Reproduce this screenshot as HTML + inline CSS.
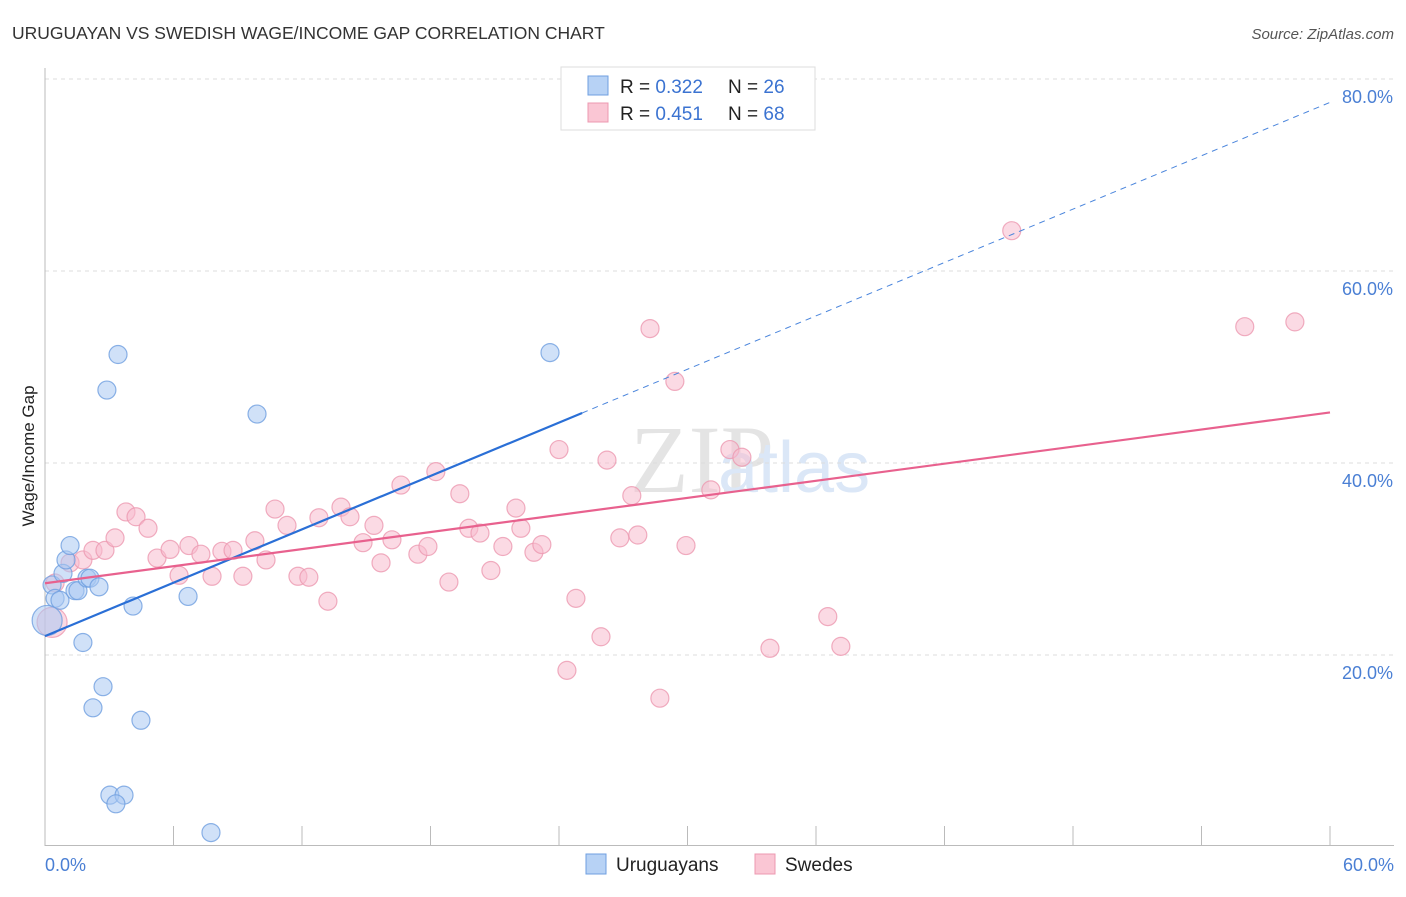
<!DOCTYPE html>
<html><head><meta charset="utf-8"><style>
body{margin:0;background:#fff;font-family:"Liberation Sans",sans-serif}
</style></head><body>
<svg id="c" width="1406" height="892" xmlns="http://www.w3.org/2000/svg" font-family="Liberation Sans, sans-serif">
<text x="12" y="39" font-size="17.5" fill="#333">URUGUAYAN VS SWEDISH WAGE/INCOME GAP CORRELATION CHART</text>
<text x="1394" y="39" font-size="15" fill="#555" text-anchor="end" font-style="italic">Source: ZipAtlas.com</text>
<text x="630" y="492" font-size="96" fill="#e4e4e4" font-family="Liberation Serif, serif">ZIP</text>
<text x="718" y="492" font-size="72" fill="#dbe7f7">atlas</text>
<text transform="translate(34,456) rotate(-90)" font-size="17" fill="#222" text-anchor="middle">Wage/Income Gap</text>
<g id="grid"></g><g id="pts"></g><g id="lines"></g>
<g>
<rect x="561" y="67" width="254" height="63" fill="#fff" stroke="#ddd"/>
<rect x="588" y="76" width="20" height="19" fill="#b7d2f5" stroke="#6f9fe0"/>
<rect x="588" y="103" width="20" height="19" fill="#fac6d4" stroke="#ec98b0"/>
<text x="620" y="93" font-size="19" fill="#222">R = <tspan fill="#3b73d1">0.322</tspan></text>
<text x="728" y="93" font-size="19" fill="#222">N = <tspan fill="#3b73d1">26</tspan></text>
<text x="620" y="120" font-size="19" fill="#222">R = <tspan fill="#3b73d1">0.451</tspan></text>
<text x="728" y="120" font-size="19" fill="#222">N = <tspan fill="#3b73d1">68</tspan></text>
</g>
<g>
<rect x="586" y="854" width="20" height="20" fill="#b7d2f5" stroke="#6f9fe0"/>
<text x="616" y="871" font-size="19" fill="#222">Uruguayans</text>
<rect x="755" y="854" width="20" height="20" fill="#fac6d4" stroke="#ec98b0"/>
<text x="785" y="871" font-size="19" fill="#222">Swedes</text>
</g>
</svg>
<script>
const uruX=[0.33,0.47,0.70,0.84,0.98,1.17,1.40,1.54,1.96,2.10,2.52,1.77,4.11,6.68,2.71,2.24,4.48,3.03,3.69,3.31,7.75,3.41,2.89,9.90,23.58,0.1];
const uruY=[27.3,25.9,25.7,28.5,29.9,31.4,26.7,26.7,28.0,28.0,27.1,21.3,25.1,26.1,16.7,14.5,13.2,5.4,5.4,4.5,1.5,51.3,47.6,45.1,51.5,23.6];
const sweX=[0.33,0.47,1.17,1.77,2.24,2.80,3.27,3.78,4.25,4.81,5.23,5.84,6.26,6.72,7.28,7.80,8.26,8.78,9.24,9.80,10.32,10.74,11.30,11.81,12.32,12.79,13.21,13.82,14.24,14.85,15.36,15.69,16.20,16.62,17.41,17.88,18.25,18.86,19.37,19.79,20.31,20.82,21.38,21.99,22.22,22.83,23.20,24.00,24.37,24.79,25.96,26.24,26.84,27.40,27.68,28.25,28.71,29.41,29.93,31.09,31.98,32.54,33.85,36.55,37.16,45.14,56.02,58.36];
const sweY=[23.4,27.5,29.6,29.9,30.9,30.9,32.2,34.9,34.4,33.2,30.1,31.0,28.3,31.4,30.5,28.2,30.8,30.9,28.2,31.9,29.9,35.2,33.5,28.2,28.1,34.3,25.6,35.4,34.4,31.7,33.5,29.6,32.0,37.7,30.5,31.3,39.1,27.6,36.8,33.2,32.7,28.8,31.3,35.3,33.2,30.7,31.5,41.4,18.4,25.9,21.9,40.3,32.2,36.6,32.5,54.0,15.5,48.5,31.4,37.2,41.4,40.6,20.7,24.0,20.9,64.2,54.2,54.7];
const yTicks=[20,40,60,80];
const xTickLabels=["0.0%","60.0%"];
const NS="http://www.w3.org/2000/svg";
const sx=v=>45+v*1285/60, sy=v=>847-v*9.6;
function mk(t,a,p){const e=document.createElementNS(NS,t);for(const k in a)e.setAttribute(k,a[k]);p.appendChild(e);return e;}
const grid=document.getElementById('grid');
yTicks.forEach(t=>{
 const l=mk('line',{x1:45,x2:1394,y1:sy(t),y2:sy(t),stroke:'#ddd','stroke-dasharray':'4,4'},grid);
 
 
 const tx=mk('text',{x:1393,y:sy(t)+24,'font-size':18,fill:'#4a7fd4','text-anchor':'end'},grid);
 tx.textContent=t.toFixed(1)+'%';
 
 
});
mk('line',{x1:45,x2:45,y1:68,y2:846,stroke:'#bbb'},grid);
mk('line',{x1:45,x2:1394,y1:845.5,y2:845.5,stroke:'#bbb'},grid);
for(let i=1;i<=10;i++){mk('line',{x1:sx(i*6),x2:sx(i*6),y1:826,y2:846,stroke:'#bbb'},grid);}
[[0,45,'start'],[60,1394,'end']].forEach((d,i)=>{
 const tx=mk('text',{x:d[1],y:871,'font-size':18,fill:'#4a7fd4','text-anchor':d[2]},grid);
 tx.textContent=xTickLabels[i];
 
 
});
const pts=document.getElementById('pts');
function draw(X,Y,fill,stroke,name){
 X.forEach((x,i)=>{
  const big=(x<0.4&&i===X.length-1)||(name==='swede'&&i===0);
  const c=mk('circle',{cx:sx(x),cy:sy(Y[i]),r:big?15:9,fill:fill,'fill-opacity':0.55,stroke:stroke,'stroke-opacity':0.8,'stroke-width':1.2},pts);
  
  
 });
}
draw(sweX,sweY,'#f8bccd','#ec98b0','swede');
draw(uruX,uruY,'#aac8f2','#6f9fe0','uruguayan');
function fit(X,Y){const n=X.length;let mx=0,my=0;X.forEach((x,i)=>{mx+=x;my+=Y[i]});mx/=n;my/=n;let a=0,b=0;X.forEach((x,i)=>{a+=(x-mx)*(Y[i]-my);b+=(x-mx)**2});const s=a/b;return [my-s*mx,s];}
const lines=document.getElementById('lines');
const fu=fit(uruX,uruY), fs=fit(sweX,sweY);
const xm=Math.max(...uruX)+1.5;
let l=mk('line',{x1:sx(0),y1:sy(fu[0]),x2:sx(xm),y2:sy(fu[0]+fu[1]*xm),stroke:'#2a6fd6','stroke-width':2.2},lines);


l=mk('line',{x1:sx(xm),y1:sy(fu[0]+fu[1]*xm),x2:sx(60),y2:sy(fu[0]+fu[1]*60),stroke:'#4a85dc','stroke-width':1,'stroke-dasharray':'6,5'},lines);


l=mk('line',{x1:sx(0),y1:sy(fs[0]),x2:sx(60),y2:sy(fs[0]+fs[1]*60),stroke:'#e8618e','stroke-width':2.2},lines);


</script>
</body></html>
